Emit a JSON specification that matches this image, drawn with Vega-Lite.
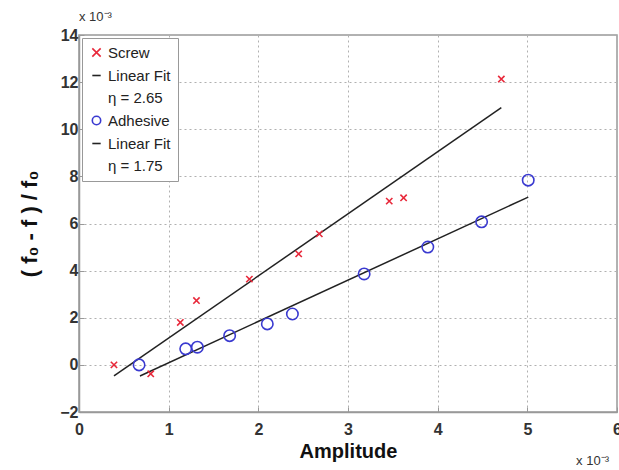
{
  "$schema": "https://vega.github.io/schema/vega-lite/v6.json",
  "width": 538,
  "height": 377,
  "autosize": {"type": "none"},
  "padding": {"left": 79, "top": 35, "right": 2, "bottom": 58},
  "config": {
    "font": "Liberation Sans",
    "view": {"stroke": "#999999", "strokeWidth": 1.5},
    "axis": {
      "grid": true,
      "gridColor": "#b0b0b0",
      "gridDash": [2, 3],
      "gridWidth": 1,
      "domainColor": "#999999",
      "domainWidth": 1.5,
      "tickColor": "#999999",
      "tickSize": -5,
      "labelFlush": false,
      "labelFont": "Liberation Sans",
      "labelFontSize": 16,
      "labelFontWeight": "bold",
      "labelColor": "#333333",
      "titleFont": "Liberation Sans",
      "titleFontSize": 20,
      "titleFontWeight": "bold",
      "titleColor": "#111111"
    },
    "legend": {
      "orient": "top-left",
      "offset": 3,
      "labelFont": "Liberation Sans",
      "labelFontSize": 15,
      "labelColor": "#222222",
      "fillColor": "white",
      "strokeColor": "#999999",
      "padding": 7,
      "rowPadding": 7,
      "symbolSize": 70,
      "symbolStrokeWidth": 1.6
    }
  },
  "data": {
    "values": [
      {"series": "Screw", "kind": "point", "amp": 0.39, "df": 0.0},
      {"series": "Screw", "kind": "point", "amp": 0.8, "df": -0.38},
      {"series": "Screw", "kind": "point", "amp": 1.13, "df": 1.8},
      {"series": "Screw", "kind": "point", "amp": 1.31, "df": 2.73},
      {"series": "Screw", "kind": "point", "amp": 1.9, "df": 3.64},
      {"series": "Screw", "kind": "point", "amp": 2.45, "df": 4.71},
      {"series": "Screw", "kind": "point", "amp": 2.68, "df": 5.56},
      {"series": "Screw", "kind": "point", "amp": 3.46, "df": 6.95},
      {"series": "Screw", "kind": "point", "amp": 3.62, "df": 7.09},
      {"series": "Screw", "kind": "point", "amp": 4.71, "df": 12.13},
      {"series": "Adhesive", "kind": "point", "amp": 0.67, "df": 0.0},
      {"series": "Adhesive", "kind": "point", "amp": 1.19, "df": 0.68},
      {"series": "Adhesive", "kind": "point", "amp": 1.32, "df": 0.75},
      {"series": "Adhesive", "kind": "point", "amp": 1.68, "df": 1.24},
      {"series": "Adhesive", "kind": "point", "amp": 2.1, "df": 1.74},
      {"series": "Adhesive", "kind": "point", "amp": 2.38, "df": 2.16},
      {"series": "Adhesive", "kind": "point", "amp": 3.18, "df": 3.86},
      {"series": "Adhesive", "kind": "point", "amp": 3.89, "df": 5.0},
      {"series": "Adhesive", "kind": "point", "amp": 4.49, "df": 6.07},
      {"series": "Adhesive", "kind": "point", "amp": 5.01, "df": 7.84},
      {"series": "Linear Fit|η = 2.65", "kind": "fit", "amp": 0.39, "df": -0.47},
      {"series": "Linear Fit|η = 2.65", "kind": "fit", "amp": 4.71, "df": 10.92},
      {"series": "Linear Fit|η = 1.75", "kind": "fit", "amp": 0.68, "df": -0.47},
      {"series": "Linear Fit|η = 1.75", "kind": "fit", "amp": 5.01, "df": 7.12}
    ]
  },
  "encoding": {
    "x": {
      "field": "amp",
      "type": "quantitative",
      "scale": {"domain": [0, 6], "nice": false},
      "axis": {"title": "Amplitude", "values": [0, 1, 2, 3, 4, 5, 6], "labelPadding": 14, "titlePadding": 4}
    },
    "y": {
      "field": "df",
      "type": "quantitative",
      "scale": {"domain": [-2, 14], "nice": false},
      "axis": {"title": "( f₀ - f ) / f₀", "titleFontSize": 22, "values": [-2, 0, 2, 4, 6, 8, 10, 12, 14], "labelPadding": 6, "titlePadding": 18}
    }
  },
  "layer": [
    {
      "transform": [{"filter": "datum.kind === 'fit'"}],
      "mark": {"type": "line", "strokeWidth": 1.5},
      "encoding": {
        "color": {"field": "series", "type": "nominal",
          "scale": {"domain": ["Screw", "Linear Fit|η = 2.65", "Adhesive", "Linear Fit|η = 1.75"], "range": ["#e8283a", "#222222", "#3a3ad0", "#222222"]},
          "legend": {"title": null, "labelExpr": "split(datum.label, '|')", "encode": {"labels": {"update": {"lineHeight": {"value": 22}}}}}}
      }
    },
    {
      "transform": [{"filter": "datum.kind === 'point'"}],
      "mark": {"type": "point", "filled": false, "strokeWidth": 1.6, "opacity": 1},
      "encoding": {
        "color": {"field": "series", "type": "nominal",
          "scale": {"domain": ["Screw", "Linear Fit|η = 2.65", "Adhesive", "Linear Fit|η = 1.75"], "range": ["#e8283a", "#222222", "#3a3ad0", "#222222"]},
          "legend": {"title": null, "labelExpr": "split(datum.label, '|')", "encode": {"labels": {"update": {"lineHeight": {"value": 22}}}}}
        },
        "shape": {"field": "series", "type": "nominal",
          "scale": {"domain": ["Screw", "Linear Fit|η = 2.65", "Adhesive", "Linear Fit|η = 1.75"], "range": ["M-1,-1L1,1M-1,1L1,-1", "stroke", "circle", "stroke"]},
          "legend": {"title": null, "labelExpr": "split(datum.label, '|')", "encode": {"labels": {"update": {"lineHeight": {"value": 22}}}}}
        },
        "size": {"field": "series", "type": "nominal", "legend": null,
          "scale": {"domain": ["Screw", "Adhesive"], "range": [40, 130]}}
      }
    },
    {
      "data": {"values": [{"amp": 0, "df": 14, "t": "x 10⁻³"}]},
      "mark": {"type": "text", "align": "left", "baseline": "bottom", "dy": -11, "fontSize": 13, "font": "Liberation Sans", "color": "#333333"},
      "encoding": {"text": {"field": "t"}}
    },
    {
      "data": {"values": [{"amp": 6, "df": -2, "t": "x 10⁻³"}]},
      "mark": {"type": "text", "align": "right", "baseline": "bottom", "dy": 56, "dx": -8, "fontSize": 13, "font": "Liberation Sans", "color": "#333333"},
      "encoding": {"text": {"field": "t"}}
    }
  ]
}
